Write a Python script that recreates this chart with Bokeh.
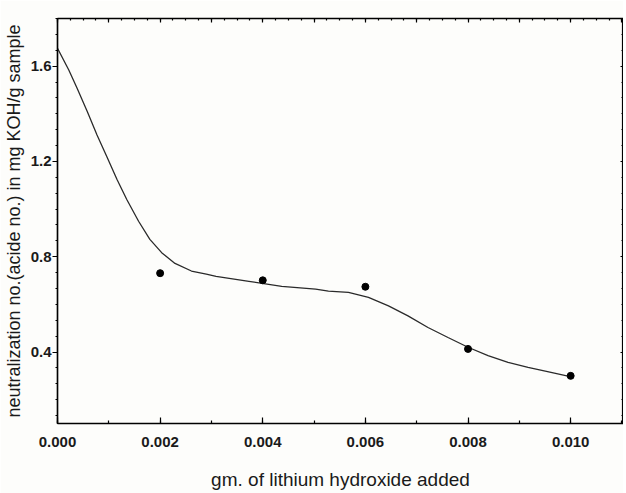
from bokeh.plotting import figure
from bokeh.models import LinearAxis, SingleIntervalTicker, NumeralTickFormatter, Range1d, CustomJSTickFormatter
from bokeh.embed import file_html
from bokeh.resources import INLINE

# measured points (gm LiOH added vs neutralization no.)
lioh_g = [0.002, 0.004, 0.006, 0.008, 0.010]
acid_no = [0.731, 0.701, 0.674, 0.413, 0.300]

# smooth curve
curve_x = [0.0, 0.00022, 0.00038, 0.00058, 0.00077, 0.00096, 0.00116, 0.00135,
           0.00158, 0.00180, 0.00203, 0.00229, 0.00261, 0.00290, 0.00309,
           0.00373, 0.00437, 0.00503, 0.00528, 0.00567, 0.00606, 0.00645,
           0.00683, 0.00722, 0.00761, 0.00800, 0.00839, 0.00878, 0.00917,
           0.00955, 0.00997]
curve_y = [1.675, 1.584, 1.508, 1.410, 1.311, 1.221, 1.124, 1.040,
           0.949, 0.873, 0.817, 0.772, 0.740, 0.727, 0.718,
           0.697, 0.676, 0.664, 0.656, 0.650, 0.629, 0.594,
           0.552, 0.503, 0.461, 0.420, 0.385, 0.357, 0.336,
           0.318, 0.298]

x_label = "gm. of lithium hydroxide added"
y_label = "neutralization no.(acide no.) in mg KOH/g sample"

FONT = "Liberation Sans"
BG = "#fdfdfb"

p = figure(frame_width=566, frame_height=405, output_backend="svg", toolbar_location=None,
           x_range=Range1d(0, 0.01103), y_range=Range1d(0.1, 1.8),
           min_border_left=54, min_border_top=18, min_border_bottom=70, min_border_right=0,
           x_axis_type=None, y_axis_type=None, background_fill_color=BG, border_fill_color=BG)
p.grid.visible = False
p.outline_line_color = "black"
p.outline_line_width = 1.2

blank = CustomJSTickFormatter(code="return ''")

def style(ax, show_labels=True):
    ax.axis_line_color = "black"
    ax.axis_line_width = 1.5
    ax.major_tick_line_color = "black"
    ax.minor_tick_line_color = "black"
    ax.major_tick_line_width = 1.2
    ax.minor_tick_line_width = 1.2
    if show_labels:
        ax.major_label_text_font = FONT
        ax.major_label_text_font_style = "bold"
        ax.major_label_text_font_size = "15px"
        ax.major_label_text_color = "#1a1a1a"
        ax.axis_label_text_font = FONT
        ax.axis_label_text_font_style = "normal"
        ax.axis_label_text_font_size = "18px"
        ax.axis_label_text_color = "#1a1a1a"
    else:
        ax.formatter = blank
        ax.major_label_standoff = 0

xb = LinearAxis(ticker=SingleIntervalTicker(interval=0.002, num_minor_ticks=2),
                formatter=NumeralTickFormatter(format="0.000"), axis_label=x_label)
style(xb)
xb.major_tick_in = 6
xb.major_tick_out = 0
xb.minor_tick_in = 3
xb.minor_tick_out = 0
xb.major_label_standoff = 13
xb.axis_label_standoff = 19
xb.axis_label_text_font_size = "19px"
p.add_layout(xb, "below")

yl = LinearAxis(ticker=SingleIntervalTicker(interval=0.4, num_minor_ticks=6), axis_label=y_label)
style(yl)
yl.major_tick_in = 0
yl.major_tick_out = 5
yl.minor_tick_in = 0
yl.minor_tick_out = 2
yl.major_label_standoff = 1
yl.axis_label_standoff = 4
p.add_layout(yl, "left")

xt = LinearAxis(ticker=SingleIntervalTicker(interval=0.001, num_minor_ticks=4))
style(xt, show_labels=False)
xt.major_tick_in = 4
xt.major_tick_out = 0
xt.minor_tick_in = 2
xt.minor_tick_out = 0
p.add_layout(xt, "above")

yr = LinearAxis(ticker=SingleIntervalTicker(interval=0.4, num_minor_ticks=6))
style(yr, show_labels=False)
yr.major_tick_in = 3
yr.major_tick_out = 0
yr.minor_tick_in = 2
yr.minor_tick_out = 0
p.add_layout(yr, "right")

p.line(curve_x, curve_y, line_color="#2a2a2a", line_width=1.3)
p.scatter(lioh_g, acid_no, size=7, color="black")

open("out.html", "w").write(file_html(p, INLINE))
